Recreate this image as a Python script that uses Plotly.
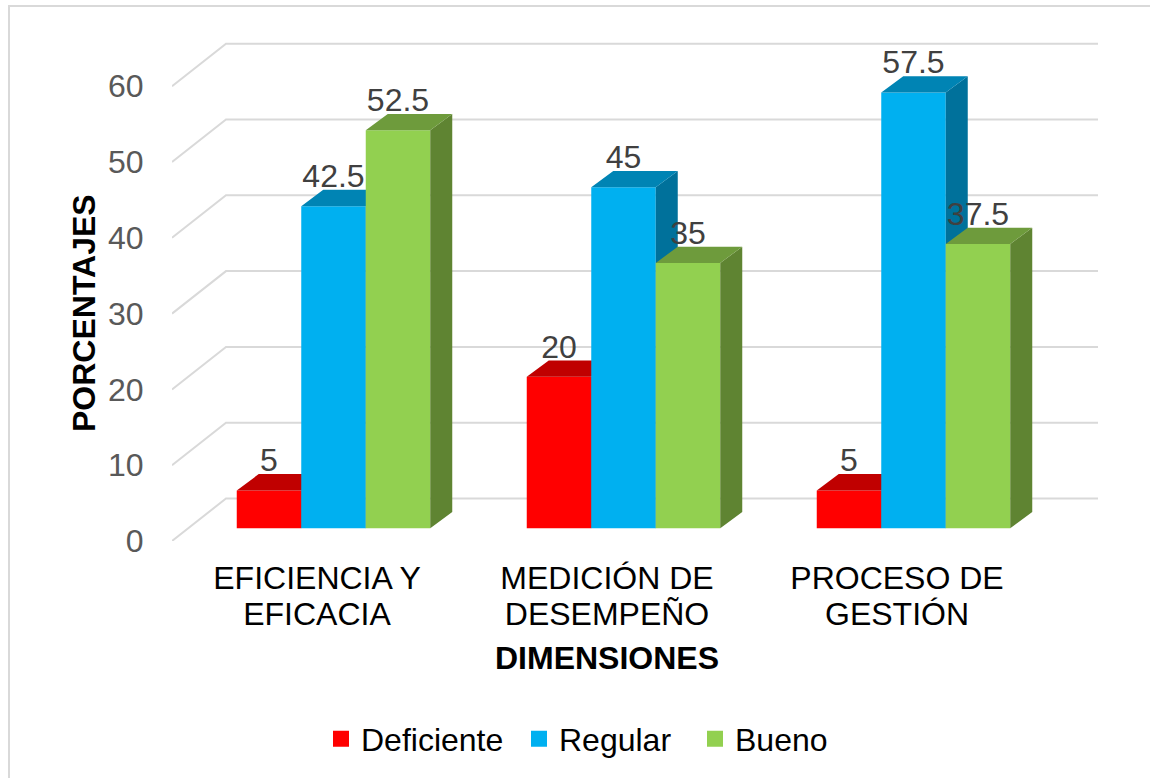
import plotly.graph_objects as go

# Data
categories_line1 = ["EFICIENCIA Y", "MEDICIÓN DE", "PROCESO DE"]
categories_line2 = ["EFICACIA", "DESEMPEÑO", "GESTIÓN"]
deficiente = [5, 20, 5]
regular = [42.5, 45, 57.5]
bueno = [52.5, 35, 37.5]
y_ticks = [0, 10, 20, 30, 40, 50, 60]

series_names = ["Deficiente", "Regular", "Bueno"]
front_colors = ["#FF0000", "#00B0F0", "#92D050"]
top_colors = ["#C00000", "#0084B4", "#6E9B3C"]
side_colors = ["#A00000", "#00719B", "#5F8432"]

W, H = 1150, 778
LEFT, RIGHT, TOP, BOTTOM = 172, 1098, 20, 541
PX_X = 290.0    # pixels per category
PX_Y = 7.58     # pixels per percentage point
X_START = 317   # pixel of the first category
FONT_SIZE = 32

# Fake 3D depth, in data units
wall_dx, wall_dy = 54 / PX_X, 42.5 / PX_Y
shift_x, shift_y = 16.5 / PX_X, 12.7 / PX_Y
bar_dx, bar_dy = 22 / PX_X, 16.3 / PX_Y
bar_w = 64.5 / PX_X

x_pos = list(range(len(categories_line1)))
x_range = [(LEFT - X_START) / PX_X, (RIGHT - X_START) / PX_X]
y_range = [0, (BOTTOM - TOP) / PX_Y]
legend_left = [321, 519, 695]   # one legend per series, the gaps are uneven


def paper_x(px):
    return (px - LEFT) / (RIGHT - LEFT)


def paper_y(px):
    return (BOTTOM - px) / (BOTTOM - TOP)


fig = go.Figure()

# Back wall gridlines with their slanted part towards the tick labels
grid_x, grid_y = [], []
for t in y_ticks:
    grid_x += [x_range[0], x_range[0] + wall_dx, x_range[1], None]
    grid_y += [t, t + wall_dy, t + wall_dy, None]
fig.add_trace(go.Scatter(x=grid_x, y=grid_y, mode="lines", showlegend=False, hoverinfo="skip",
                         line=dict(color="#D9D9D9", width=2)))

# One overlaid y axis per series, so that each series paints over the one before
for i, values in enumerate([deficiente, regular, bueno]):
    axis = "y" + str(i + 2)
    centers = [p + shift_x + (i - 1) * bar_w for p in x_pos]
    fig.add_trace(go.Bar(x=centers, y=values, base=shift_y, width=bar_w, name=series_names[i],
                         legendgroup=series_names[i], showlegend=False,
                         marker=dict(color=front_colors[i], line=dict(width=0)), yaxis=axis))
    side_x, side_y, top_x, top_y = [], [], [], []
    for c, v in zip(centers, values):
        l, r = c - bar_w / 2, c + bar_w / 2
        low, high = shift_y, shift_y + v
        side_x += [r, r + bar_dx, r + bar_dx, r, r, None]
        side_y += [low, low + bar_dy, high + bar_dy, high, low, None]
        top_x += [l, l + bar_dx, r + bar_dx, r, l, None]
        top_y += [high, high + bar_dy, high + bar_dy, high, high, None]
    for xs, ys, color in [(side_x, side_y, side_colors[i]), (top_x, top_y, top_colors[i])]:
        fig.add_trace(go.Scatter(x=xs, y=ys, mode="lines", fill="toself", fillcolor=color,
                                 line=dict(width=0, color=color), showlegend=False,
                                 legendgroup=series_names[i], hoverinfo="skip", yaxis=axis))
    # legend entry only, for a bigger square than the bar swatch
    fig.add_trace(go.Scatter(x=[None], y=[None], mode="markers", name=series_names[i],
                             legendgroup=series_names[i], yaxis=axis,
                             legend="legend" if i == 0 else "legend" + str(i + 1),
                             marker=dict(symbol="square", size=16, color=front_colors[i])))

# Data labels on top of everything, on the axes that carry the second label line
label_x, label_y, label_text = [], [], []
for i, values in enumerate([deficiente, regular, bueno]):
    for p, v in zip(x_pos, values):
        label_x.append(p + shift_x + (i - 1) * bar_w)
        label_y.append(v + shift_y + 27 / PX_Y)
        label_text.append(str(v))
fig.add_trace(go.Scatter(x=label_x, y=label_y, text=label_text, mode="text", textposition="middle center",
                         textfont=dict(size=FONT_SIZE, color="#404040", family="Liberation Sans"),
                         showlegend=False, hoverinfo="skip", xaxis="x2", yaxis="y5"))

overlay = dict(overlaying="y", matches="y", visible=False)
legends = [dict(orientation="h", x=paper_x(px), xanchor="left", y=paper_y(739), yanchor="middle",
                font=dict(size=FONT_SIZE, color="#000000")) for px in legend_left]
fig.update_layout(
    width=W,
    height=H,
    margin=dict(l=LEFT, r=W - RIGHT, t=TOP, b=H - BOTTOM),
    paper_bgcolor="white",
    plot_bgcolor="white",
    font=dict(family="Liberation Sans"),
    barmode="overlay",
    xaxis=dict(range=x_range, tickvals=x_pos, ticktext=categories_line1, showgrid=False, zeroline=False,
               showline=False, ticks="outside", ticklen=9, tickcolor="rgba(0,0,0,0)",
               tickfont=dict(size=FONT_SIZE, color="#000000")),
    xaxis2=dict(range=x_range, overlaying="x", matches="x", side="bottom", anchor="y",
                tickvals=x_pos, ticktext=categories_line2, showgrid=False, zeroline=False,
                showline=False, ticks="outside", ticklen=45, tickcolor="rgba(0,0,0,0)",
                tickfont=dict(size=FONT_SIZE, color="#000000")),
    yaxis=dict(range=y_range, tickvals=y_ticks, showgrid=False, zeroline=False, showline=False,
               ticks="outside", ticklen=21, tickcolor="rgba(0,0,0,0)",
               tickfont=dict(size=FONT_SIZE, color="#595959")),
    yaxis2=overlay,
    yaxis3=overlay,
    yaxis4=overlay,
    yaxis5=overlay,
    legend=legends[0],
    legend2=legends[1],
    legend3=legends[2],
    annotations=[
        dict(text="<b>DIMENSIONES</b>", x=1, xref="x", y=paper_y(658), yref="paper",
             xanchor="center", yanchor="middle", showarrow=False,
             font=dict(size=FONT_SIZE, color="#000000")),
        dict(text="<b>PORCENTAJES</b>", x=paper_x(84), xref="paper", y=paper_y(313), yref="paper",
             xanchor="center", yanchor="middle", textangle=-90, showarrow=False,
             font=dict(size=FONT_SIZE, color="#000000")),
    ],
    shapes=[
        dict(type="rect", xref="paper", yref="paper", line=dict(color="#D9D9D9", width=2),
             x0=paper_x(9), x1=paper_x(W + 20), y0=paper_y(H + 20), y1=paper_y(6), layer="below"),
    ],
)

# the page's default body margin would push the figure 8 px off
fig.write_html("out.html", config=dict(displayModeBar=False),
               post_script="document.body.style.margin='0';")
